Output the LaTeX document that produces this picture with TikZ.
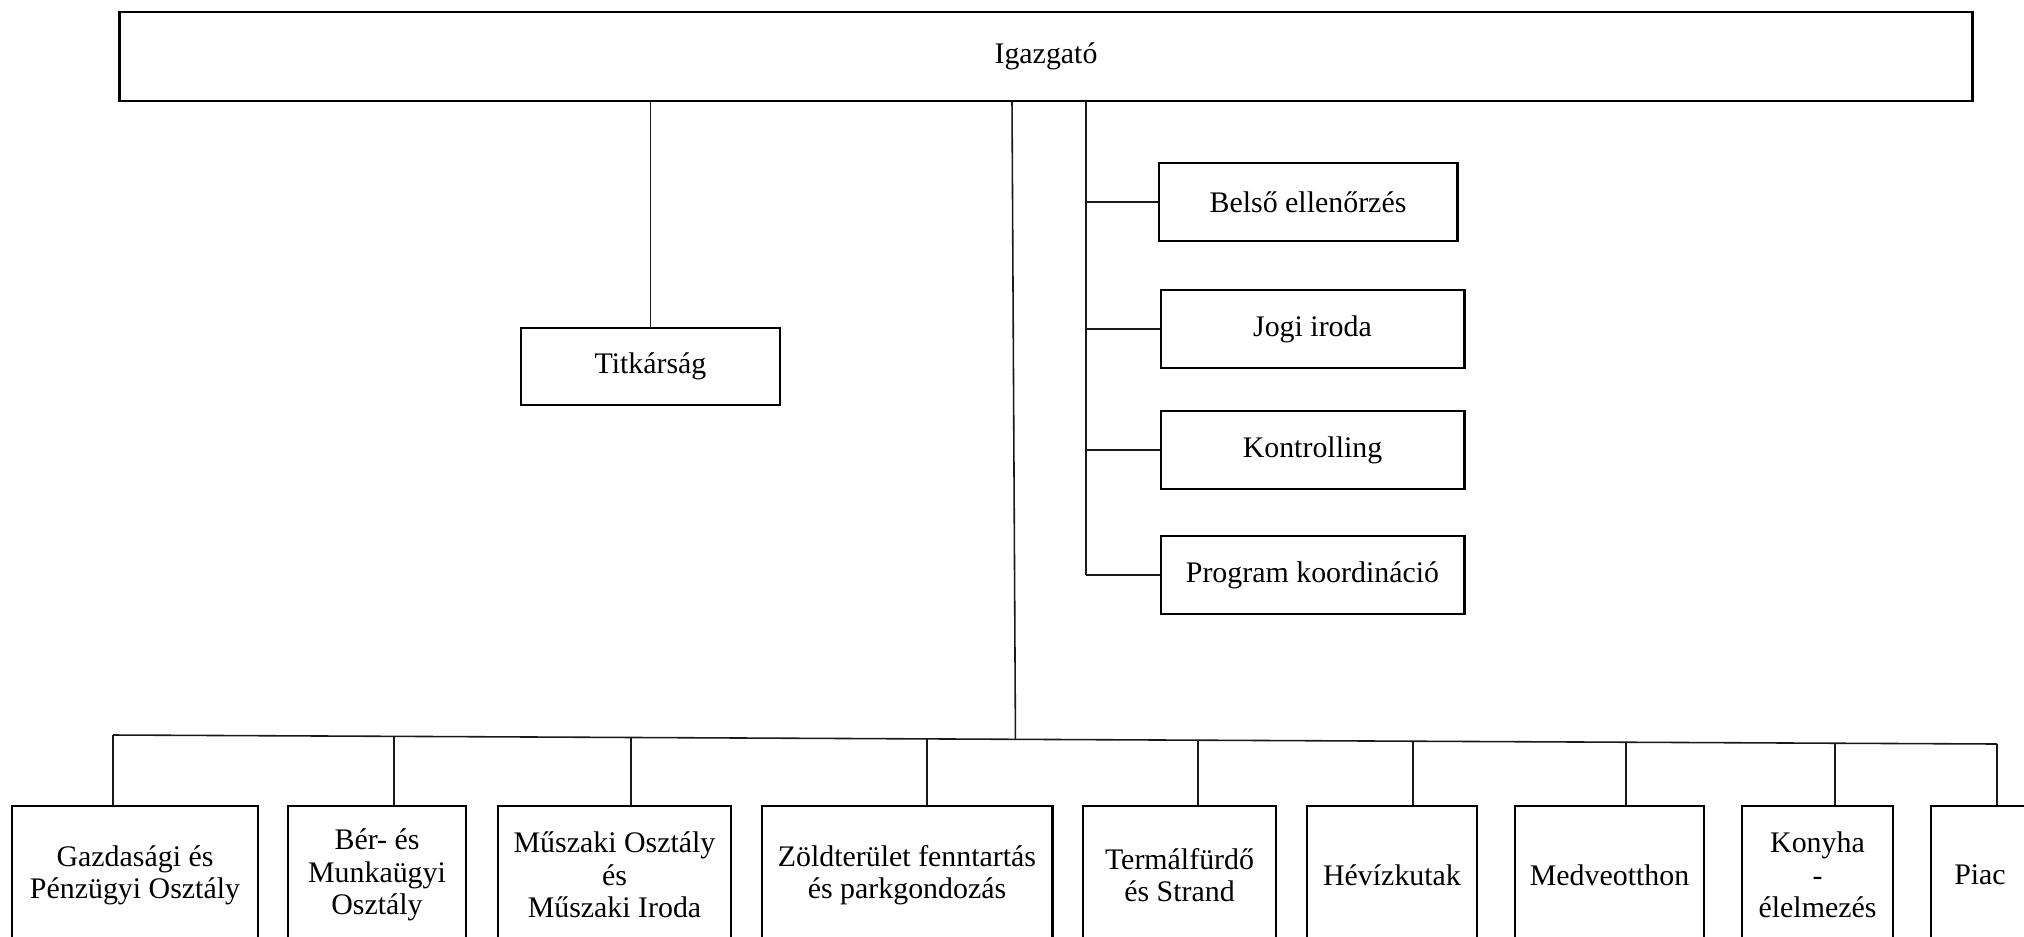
\documentclass[tikz,border=0pt]{standalone}
\usepackage{fontspec}
\setmainfont{Liberation Serif}
\usetikzlibrary{calc}

\begin{document}
\begin{tikzpicture}[x=0.01cm,y=-0.01cm,
	unit/.style={draw,thick,align=center,inner sep=0pt,font=\fontsize{8.5}{9.2}\selectfont},
	conn/.style={line width=0.45pt,black!90}]
	\useasboundingbox (0,0) rectangle (2024,936);
	
	% Draw the director on top
	\node[unit,minimum width=18.52cm,minimum height=0.89cm] (igaz) at (1046,56.5) {Igazgató};
	
	% Draw the staff units
	\node[unit,minimum width=2.59cm,minimum height=0.77cm] (titk) at (650.5,366.5) {Titkárság};
	\node[unit,minimum width=2.98cm,minimum height=0.78cm] (belso) at (1308,202) {Belső ellenőrzés};
	\node[unit,minimum width=3.03cm,minimum height=0.78cm] (jogi) at (1312.5,329) {Jogi iroda};
	\node[unit,minimum width=3.03cm,minimum height=0.78cm] (kontr) at (1312.5,450) {Kontrolling};
	\node[unit,minimum width=3.03cm,minimum height=0.78cm] (prog) at (1312.5,575) {Program koordináció};
	
	% Draw the departments at the bottom
	\node[unit,minimum width=2.46cm,minimum height=1.38cm] (gazd) at (135,875) {Gazdasági és\\Pénzügyi Osztály};
	\node[unit,minimum width=1.78cm,minimum height=1.38cm] (ber) at (377,875) {Bér- és\\Munkaügyi\\Osztály};
	\node[unit,minimum width=2.33cm,minimum height=1.38cm] (musz) at (614.5,875) {Műszaki Osztály\\és\\Műszaki Iroda};
	\node[unit,minimum width=2.90cm,minimum height=1.38cm] (zold) at (907,875) {Zöldterület fenntartás\\és parkgondozás};
	\node[unit,minimum width=1.93cm,minimum height=1.38cm] (term) at (1179.5,875) {Termálfürdő\\és Strand};
	\node[unit,minimum width=1.70cm,minimum height=1.38cm] (heviz) at (1392,875) {Hévízkutak};
	\node[unit,minimum width=1.89cm,minimum height=1.38cm] (medve) at (1609.5,875) {Medveotthon};
	\node[unit,minimum width=1.51cm,minimum height=1.38cm] (konyha) at (1817.5,875) {Konyha\\-\\élelmezés};
	\node[unit,minimum width=0.98cm,minimum height=1.38cm] (piac) at (1980,875) {Piac};
	
	% Draw the connectors
	\draw[conn] (titk.north |- igaz.south) -- (titk.north);
	
	\coordinate (rs) at (1086,101);
	\draw[conn] (rs) -- (rs |- prog.west);
	\foreach \n in {belso,jogi,kontr,prog}
		\draw[conn] (rs |- \n.west) -- (\n.west);
	
	\coordinate (busL) at (113,735);
	\coordinate (busR) at (1997,744);
	\coordinate (mtop) at (1012,101);
	\draw[conn] (busL) -- (busR);
	\draw[conn] (mtop) -- ($(busL)!0.479!(busR)$);
	\foreach \n/\t in {gazd/0,ber/0.149,musz/0.275,zold/0.432,term/0.576,heviz/0.690,medve/0.803,konyha/0.914,piac/1}{
		\coordinate (d\n) at ($(busL)!\t!(busR)$);
		\draw[conn] (d\n) -- (d\n |- \n.north);
	}
	
\end{tikzpicture}
\end{document}
